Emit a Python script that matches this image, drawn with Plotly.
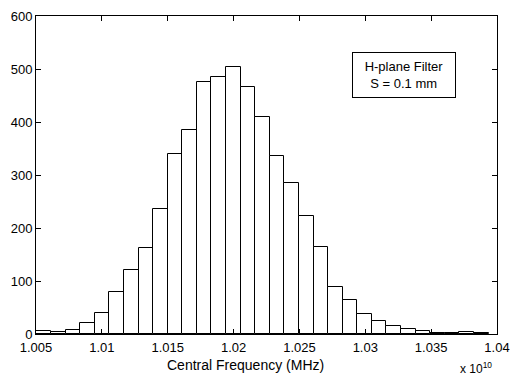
import plotly.graph_objects as go

# Histogram data (x in units of 1e10 Hz as displayed)
bin_start = 1.00503
bin_width = 0.0011075
counts = [6, 4, 8, 20, 40, 80, 121, 162, 236, 340, 384, 475, 485, 503, 466,
          410, 336, 285, 223, 164, 88, 64, 37, 24, 16, 10, 6, 1, 1, 3, 1]
tick_labels = ["1.005", "1.01", "1.015", "1.02", "1.025", "1.03", "1.035", "1.04"]
y_ticks = [0, 100, 200, 300, 400, 500, 600]
scale = 1e10

centers = [(bin_start + (i + 0.5) * bin_width) * scale for i in range(len(counts))]
tick_vals = [float(t) * scale for t in tick_labels]

fig = go.Figure()
fig.add_trace(go.Bar(
    x=centers, y=counts, width=bin_width * scale,
    marker=dict(color="white", line=dict(color="black", width=1)),
    showlegend=False,
))

font = "Arial, Liberation Sans, sans-serif"
fig.update_layout(
    width=510, height=376,
    margin=dict(l=36, r=13, t=16, b=42),
    paper_bgcolor="white", plot_bgcolor="white",
    font=dict(family=font, size=13, color="black"),
    bargap=0,
    xaxis=dict(
        range=[1.005 * scale, 1.04 * scale],
        tickvals=tick_vals, ticktext=tick_labels,
        ticks="inside", ticklen=5, tickcolor="black",
        showline=True, linecolor="black", linewidth=1, mirror="ticks",
        showgrid=False, zeroline=False, automargin=False,
        tickfont=dict(size=13), ticklabelstandoff=1,
    ),
    yaxis=dict(
        range=[0, 600], tickvals=y_ticks,
        ticks="inside", ticklen=5, tickcolor="black",
        showline=True, linecolor="black", linewidth=1, mirror="ticks",
        showgrid=False, zeroline=False, automargin=False,
        tickfont=dict(size=13),
    ),
    annotations=[
        dict(text="Central Frequency (MHz)", xref="paper", yref="paper",
             x=0.455, y=0, yshift=-31, xanchor="center", yanchor="middle",
             showarrow=False, font=dict(size=14)),
        dict(text="x 10<sup>10</sup>", xref="paper", yref="paper",
             x=0.915, y=0, yshift=-34, xanchor="left", yanchor="middle",
             showarrow=False, font=dict(size=12)),
        dict(text="H-plane Filter<br>S = 0.1 mm", xref="paper", yref="paper",
             x=0.798, y=0.816, xanchor="center", yanchor="middle",
             showarrow=False, font=dict(size=13), align="center",
             bordercolor="black", borderwidth=1, borderpad=6, bgcolor="white",
             width=90),
    ],
)

fig.write_html("out.html")
